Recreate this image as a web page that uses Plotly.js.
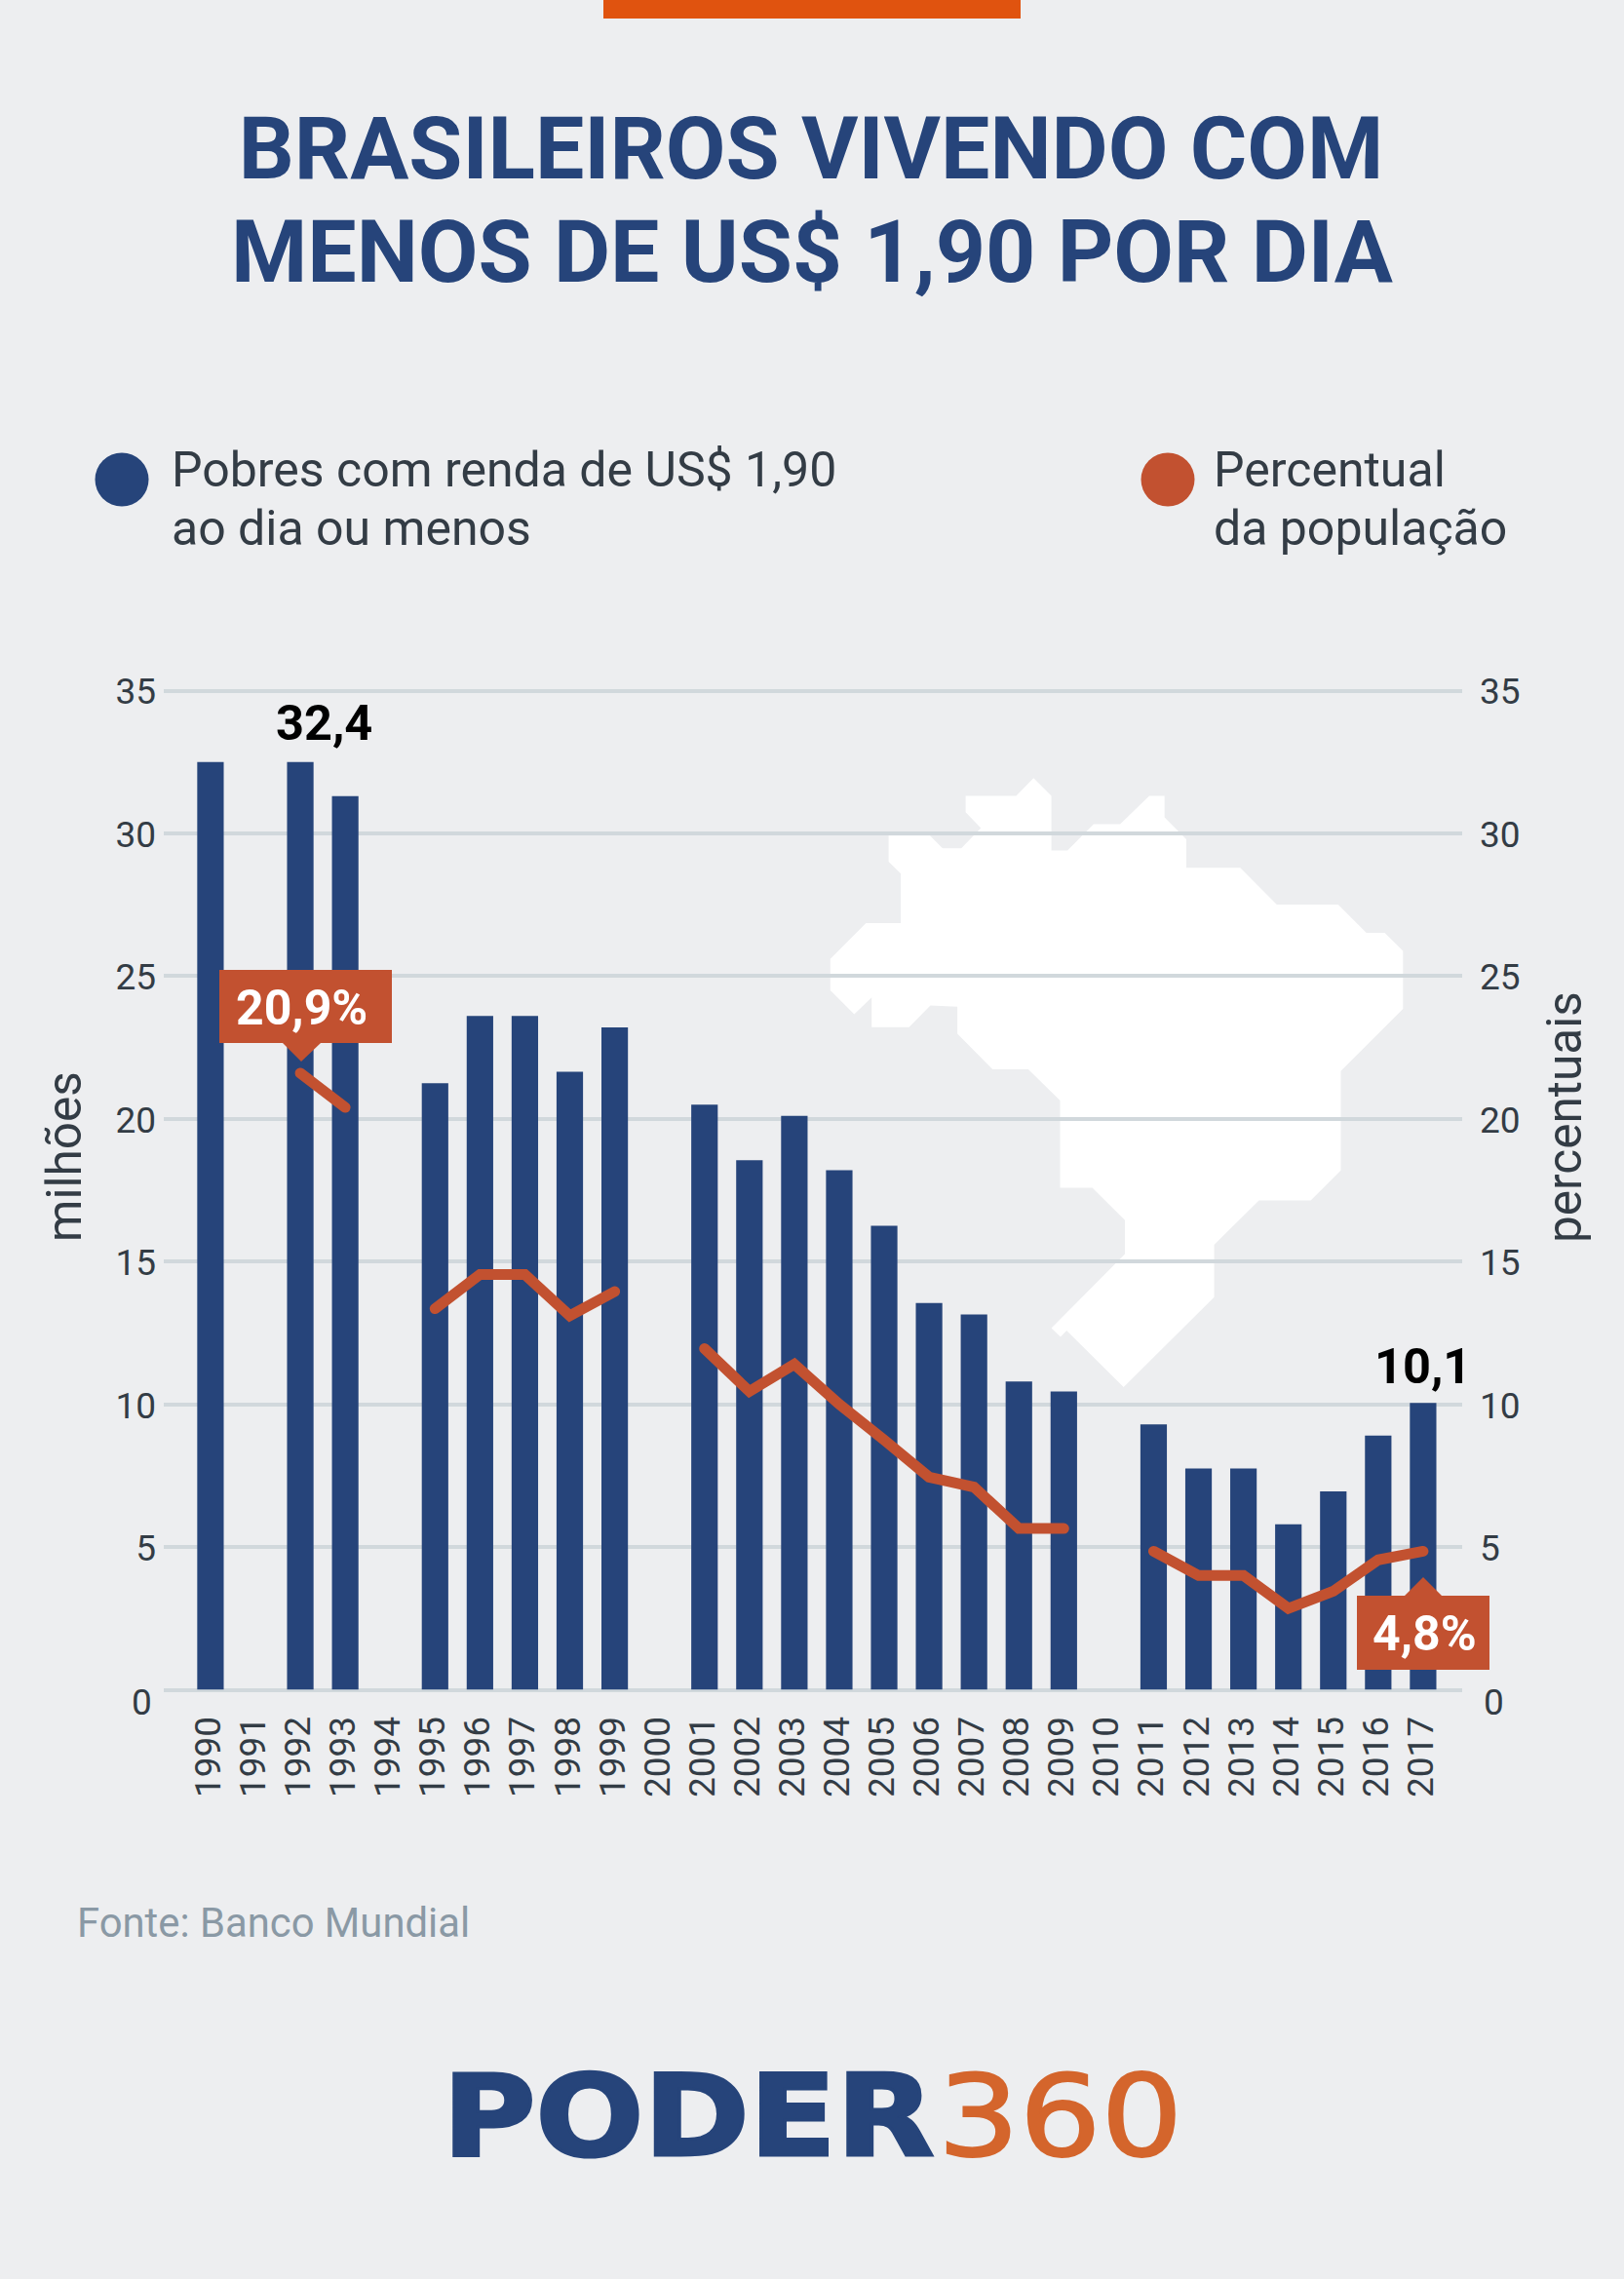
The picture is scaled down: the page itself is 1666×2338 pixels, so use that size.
<!DOCTYPE html>
<html><head><meta charset="utf-8">
<script src="https://cdn.plot.ly/plotly-3.0.1.min.js"></script>
<style>html,body{margin:0;padding:0;background:#edeef0}#c{width:1666px;height:2338px}.js-line{stroke-linecap:round}</style>
</head><body><div id="c"></div>
<script>
const years=['1990','1991','1992','1993','1994','1995','1996','1997','1998','1999','2000','2001','2002','2003','2004','2005','2006','2007','2008','2009','2010','2011','2012','2013','2014','2015','2016','2017'];
const pobres=[32.5,null,32.5,31.3,null,21.25,23.6,23.6,21.65,23.2,null,20.5,18.55,20.1,18.2,16.25,13.55,13.15,10.8,10.45,null,9.3,7.75,7.75,5.8,6.95,8.9,10.05];
const percentual=[null,null,21.6,20.4,null,13.35,14.55,14.55,13.1,13.95,null,11.95,10.45,11.4,10,8.75,7.45,7.1,5.65,5.65,null,4.85,4,4,2.85,3.45,4.55,4.85];
const yTicks=[0,5,10,15,20,25,30,35];
const yTickText=['','5','10','15','20','25','30','35'];
const W=1666,H=2338;
const NAVY='#26447a',RED='#c25130',INK='#333c45';
const px=x=>x/W, py=y=>1-y/H;
const pathOf=pts=>'M'+pts.map(p=>p[0]+','+p[1]).join('L')+'Z';
function ann(text,x,y,size,color,opts){
  const o=opts||{};
  const font={family:o.family||'Roboto',size,color};
  if(o.weight) font.weight=o.weight;
  const a={text,x:px(x),y:py(y),xref:'paper',yref:'paper',showarrow:false,xanchor:o.xanchor||'center',yanchor:'middle',font};
  if(o.textangle) a.textangle=o.textangle;
  return a;
}
const mapRaw=[[427,84],[543,84],[583,42],[624,84],[624,213],[661,213],[721,151],[782,151],[849,84],[884,84],[884,135],[934,187],[934,254],[1058,254],[1142,341],[1283,341],[1348,408],[1390,408],[1432,451],[1432,588],[1289,735],[1289,970],[1220,1041],[1101,1041],[998,1146],[998,1270],[790,1483],[659,1349],[645,1364],[624,1343],[793,1168],[793,1088],[718,1011],[644,1011],[644,805],[571,731],[489,731],[408,647],[408,583],[346,580],[297,631],[211,631],[211,561],[171,601],[116,544],[116,470],[198,385],[278,385],[278,268],[250,240],[250,178],[345,178],[374,208],[417,208],[462,160],[427,123]];
const mapPts=mapRaw.map(p=>[px(p[0]/2.24+800).toFixed(5),py(p[1]/2.306+780).toFixed(5)]);
const polyShape=(pts,fill,layer)=>({type:'path',xref:'paper',yref:'paper',layer,path:pathOf(pts.map(p=>[px(p[0]),py(p[1])])),fillcolor:fill,line:{width:0}});
const circle=(cx,cy,r,fill)=>({type:'circle',xref:'paper',yref:'paper',layer:'above',x0:px(cx-r),x1:px(cx+r),y0:py(cy+r),y1:py(cy-r),fillcolor:fill,line:{width:0}});
const shapes=[
 {type:'rect',xref:'paper',yref:'paper',layer:'below',x0:px(619),x1:px(1047),y0:py(19),y1:py(0),fillcolor:'#e0530f',line:{width:0}},
 {type:'path',xref:'paper',yref:'paper',layer:'below',path:pathOf(mapPts),fillcolor:'#ffffff',line:{width:0}},
 circle(125,492,27.5,NAVY),circle(1198,492,27.5,RED),
 polyShape([[225,995],[402,995],[402,1070],[329,1070],[309,1089],[290,1070],[225,1070]],RED,'above'),
 polyShape([[1392,1637],[1441,1637],[1460,1618],[1479,1637],[1528,1637],[1528,1713],[1392,1713]],RED,'above')
];
const annotations=[
 ann('MENOS DE US$ 1,90 POR DIA',833,258,89.5,NAVY,{weight:700}),
 ann('Pobres com renda de US$ 1,90',174,482,50,INK,{xanchor:'left'}),
 ann('ao dia ou menos',174,542,50,INK,{xanchor:'left'}),
 ann('Percentual',1243,482,50,INK,{xanchor:'left'}),
 ann('da população',1243,542,50,INK,{xanchor:'left'}),
 ann('milhões',66,1187,49.5,INK,{textangle:-90}),
 ann('percentuais',1605,1146,49.5,INK,{textangle:-90}),
 ann('0',158,1746,37,INK,{xanchor:'right'}),
 ann('0',1520,1746,37,INK,{xanchor:'left'}),
 ann('32,4',332,741,50.5,'#000',{weight:700}),
 ann('10,1',1459,1401,50.5,'#000',{weight:700}),
 ann('20,9%',309,1034,50,'#fff',{weight:700}),
 ann('4,8%',1461,1676,50,'#fff',{weight:700}),
 ann('Fonte: Banco Mundial',77,1972,41.8,'#8a99a5',{xanchor:'left'}),
 ann('PODER',706,2170,116,NAVY,{family:'DejaVu Sans',weight:700}),
 ann('360',1087,2170,116,'#d4652c',{family:'DejaVu Sans'})
];
const yAxisBase={range:[0,35.05],tickmode:'array',tickvals:yTicks,ticktext:yTickText,ticks:'',showline:false,tickfont:{family:'Roboto',size:37,color:INK},ticklabelshift:1,fixedrange:true};
const data=[
 {type:'bar',x:years,y:pobres,name:'Pobres com renda de US$ 1,90 ao dia ou menos',marker:{color:NAVY,line:{width:0}},width:0.59,yaxis:'y',xaxis:'x'},
 {type:'scatter',mode:'lines',x:years,y:percentual,name:'Percentual da população',line:{color:RED,width:11,shape:'linear'},connectgaps:false,yaxis:'y2',xaxis:'x'}
];
const layout={
 width:W,height:H,margin:{l:0,r:0,t:0,b:0,pad:0},autosize:false,showlegend:false,
 paper_bgcolor:'#edeef0',plot_bgcolor:'rgba(0,0,0,0)',
 title:{text:'BRASILEIROS VIVENDO COM',x:832/W,xanchor:'center',xref:'paper',y:py(151.5),yanchor:'middle',font:{family:'Roboto',size:89.5,color:NAVY,weight:700}},
 xaxis:{type:'category',categoryorder:'array',categoryarray:years,range:[-1.04,27.87],domain:[px(168),px(1500)],showgrid:false,zeroline:false,showline:false,ticks:'',tickmode:'array',tickvals:years,ticktext:years,tickangle:-90,tickfont:{family:'Roboto',size:37,color:INK},ticklabelstandoff:19,ticklabelshift:-2,automargin:false},
 yaxis:Object.assign({},yAxisBase,{domain:[py(1733.5),py(707.04)],side:'left',showgrid:true,gridcolor:'#d1d8dc',gridwidth:4,zeroline:true,zerolinecolor:'#d1d8dc',zerolinewidth:4,ticklabelstandoff:7,automargin:false}),
 yaxis2:Object.assign({},yAxisBase,{overlaying:'y',side:'right',showgrid:false,zeroline:false,ticklabelstandoff:17,automargin:false}),
 shapes,annotations,bargap:0.41
};
Plotly.newPlot('c',data,layout,{staticPlot:true,displayModeBar:false}).then(gd=>{
  // the logo lettering is wider than the installed fonts: stretch it a little
  gd.querySelectorAll('.annotation-text').forEach(t=>{
    const s=t.textContent;
    if(s==='PODER'||s==='360'){
      t.style.transformBox='fill-box';
      t.style.transformOrigin='center';
      t.style.transform=s==='PODER'?'scaleX(1.125)':'scaleX(1.135)';
      t.style.stroke=s==='PODER'?NAVY:'#d4652c';
      t.style.strokeWidth=s==='PODER'?'3px':'2px';
    }
  });
});
</script></body></html>
